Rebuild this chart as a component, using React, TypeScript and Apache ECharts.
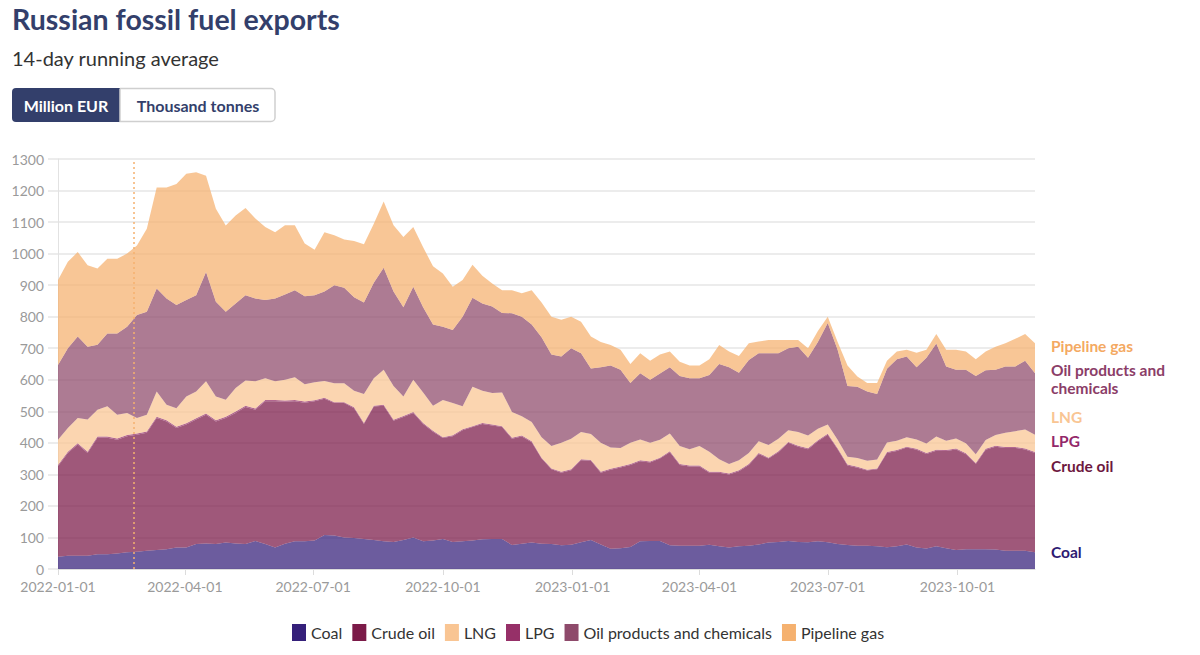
import React, { useEffect, useRef } from "react";
import * as echarts from "echarts";

const WEEKS = 100;
const DATES: string[] = Array.from({ length: WEEKS }, (_, i) =>
  new Date(Date.UTC(2022, 0, 1 + 7 * i)).toISOString().slice(0, 10)
);

const COAL = [
  39, 42, 42, 42, 47, 47, 49, 53, 55, 58,
  60, 63, 68, 68, 79, 81, 79, 84, 81, 79,
  89, 79, 68, 80, 88, 88, 90, 108, 106, 100,
  98, 95, 92, 88, 86, 92, 100, 88, 90, 95,
  86, 88, 90, 94, 95, 95, 76, 80, 84, 80,
  79, 75, 77, 85, 92, 78, 64, 66, 70, 88,
  89, 89, 75, 74, 74, 74, 77, 72, 68, 72,
  74, 78, 84, 86, 89, 86, 85, 88, 85, 79,
  76, 74, 74, 72, 69, 72, 78, 68, 65, 72,
  66, 60, 63, 63, 63, 62, 58, 58, 58, 53,
];
const CRUDE = [
  287, 326, 353, 326, 369, 369, 361, 368, 371, 374,
  419, 405, 379, 390, 395, 408, 389, 395, 414, 435,
  416, 453, 464, 450, 444, 439, 442, 432, 420, 426,
  412, 365, 423, 430, 384, 390, 395, 372, 345, 320,
  335, 352, 360, 366, 360, 355, 337, 340, 318, 270,
  237, 230, 236, 260, 251, 227, 251, 256, 260, 254,
  249, 261, 295, 256, 251, 251, 228, 233, 232, 238,
  256, 287, 266, 284, 311, 302, 295, 317, 341, 301,
  252, 247, 238, 244, 299, 302, 307, 310, 300, 303,
  308, 319, 301, 270, 315, 326, 326, 326, 321, 315,
];
const LPG = [
  4, 4, 4, 4, 4, 4, 4, 4, 4, 4,
  4, 4, 4, 4, 4, 4, 4, 4, 4, 4,
  4, 4, 4, 4, 4, 4, 3, 3, 3, 3,
  3, 3, 3, 3, 3, 3, 3, 3, 3, 3,
  3, 3, 3, 3, 3, 3, 3, 3, 3, 3,
  3, 3, 3, 3, 3, 3, 3, 3, 3, 3,
  3, 3, 3, 3, 3, 3, 3, 3, 3, 3,
  3, 3, 3, 3, 3, 3, 3, 3, 3, 3,
  3, 3, 3, 3, 3, 3, 3, 3, 3, 3,
  3, 3, 3, 3, 3, 3, 3, 3, 3, 3,
];
const LNG = [
  80, 75, 80, 102, 85, 96, 75, 70, 49, 53,
  80, 49, 59, 85, 85, 102, 75, 54, 75, 80,
  86, 69, 59, 66, 72, 55, 57, 53, 60, 60,
  52, 92, 87, 111, 107, 62, 102, 97, 80, 118,
  102, 73, 125, 102, 100, 107, 82, 61, 61, 65,
  71, 92, 97, 86, 82, 92, 67, 59, 67, 66,
  59, 57, 57, 57, 52, 62, 64, 40, 30, 32,
  35, 37, 40, 40, 37, 43, 40, 37, 29, 27,
  25, 28, 28, 28, 30, 30, 30, 30, 30, 42,
  30, 32, 32, 28, 28, 34, 45, 50, 60, 55,
];
const OIL = [
  237, 253, 258, 231, 206, 231, 258, 273, 326, 327,
  326, 337, 327, 306, 305, 347, 300, 279, 268, 270,
  263, 248, 263, 270, 276, 279, 276, 284, 311, 303,
  297, 290, 303, 323, 300, 283, 295, 270, 257, 232,
  232, 284, 282, 277, 274, 252, 313, 316, 309, 317,
  290, 274, 287, 250, 208, 240, 260, 248, 190, 210,
  200, 210, 210, 222, 225, 215, 243, 302, 307, 277,
  295, 279, 291, 271, 260, 271, 247, 275, 322, 285,
  224, 226, 220, 208, 234, 258, 256, 229, 272, 295,
  235, 218, 233, 248, 221, 207, 210, 205, 218, 195,
];
const PIPE = [
  269, 274, 268, 258, 242, 237, 237, 232, 221, 263,
  321, 352, 384, 400, 390, 305, 295, 273, 279, 277,
  253, 231, 210, 220, 206, 167, 144, 188, 158, 153,
  178, 185, 187, 210, 210, 223, 189, 190, 185, 169,
  137, 116, 105, 88, 73, 72, 73, 74, 109, 110,
  120, 116, 100, 100, 101, 80, 65, 63, 60, 63,
  60, 60, 50, 45, 40, 40, 50, 60, 50, 53,
  53, 37, 42, 42, 26, 21, 30, 35, 20, 25,
  65, 32, 27, 35, 25, 25, 21, 46, 25, 30,
  53, 63, 58, 53, 60, 73, 74, 88, 85, 95,
];

const LEGEND_ORDER = ["Coal", "Crude oil", "LNG", "LPG", "Oil products and chemicals", "Pipeline gas"];
const INVASION = "2022-02-24";

const SERIES = [
  { name: "Coal", values: COAL, color: "#35207a" },
  { name: "Crude oil", values: CRUDE, color: "#7b1a48" },
  { name: "LPG", values: LPG, color: "#963068" },
  { name: "LNG", values: LNG, color: "#f9c593" },
  { name: "Oil products and chemicals", values: OIL, color: "#8e4a6b" },
  { name: "Pipeline gas", values: PIPE, color: "#f5b16f" },
];

const FONT = "Lato, 'Noto Sans', sans-serif";
const pad = (n: number) => (n < 10 ? "0" + n : "" + n);

export default function App() {
  const ref = useRef<HTMLDivElement>(null);
  useEffect(() => {
    document.body.style.margin = "0";
    if (!ref.current) return;
    const chart = echarts.init(ref.current, undefined, { renderer: "svg" });
    const DAY = 86400000;
    const colorOf = (n: string) => SERIES.find((s) => s.name === n)!.color;
    const rightLabels = [
      { t: "Pipeline gas", y: 346, c: "#f4a962" },
      { t: "Oil products and", y: 370, c: "#8b3d68" },
      { t: "chemicals", y: 388, c: "#8b3d68" },
      { t: "LNG", y: 417, c: "#f9c593" },
      { t: "LPG", y: 441, c: "#93286a" },
      { t: "Crude oil", y: 466, c: "#6d1840" },
      { t: "Coal", y: 552, c: "#2e1a72" },
    ];
    chart.setOption({
      animation: false,
      textStyle: { fontFamily: FONT },
      grid: { left: 58, right: 165, top: 159, bottom: 86, containLabel: false },
      xAxis: {
        type: "time",
        min: DATES[0],
        max: DATES[DATES.length - 1],
        minInterval: 91 * DAY,
        maxInterval: 92 * DAY,
        axisLine: { show: true, lineStyle: { color: "#dcdcdc", width: 1 } },
        axisTick: { show: true, length: 6, lineStyle: { color: "#dcdcdc" } },
        splitLine: { show: false },
        axisLabel: {
          color: "#9a9a9a",
          fontSize: 14,
          fontFamily: FONT,
          margin: 10,
          formatter: (v: number) => {
            const d = new Date(v);
            return `${d.getFullYear()}-${pad(d.getMonth() + 1)}-${pad(d.getDate())}`;
          },
        },
      },
      yAxis: {
        type: "value",
        min: 0,
        max: 1300,
        interval: 100,
        axisLine: { show: true, lineStyle: { color: "#e2e2e2" } },
        axisTick: { show: true, length: 10, lineStyle: { color: "#ececec", width: 2 } },
        splitLine: { show: true, lineStyle: { color: "#ececec", width: 2 } },
        axisLabel: {
          color: "#9a9a9a",
          fontSize: 14,
          fontFamily: FONT,
          margin: 14,
          formatter: (v: number) => String(v),
        },
      },
      legend: {
        top: 619,
        left: 287,
        icon: "rect",
        itemWidth: 14,
        itemHeight: 17,
        itemGap: 10,
        textStyle: { fontSize: 16, color: "#333", fontFamily: FONT },
        data: LEGEND_ORDER.map((n) => ({ name: n, itemStyle: { color: colorOf(n), opacity: 1 } })),
      },
      series: SERIES.map((s, idx) => ({
        name: s.name,
        type: "line",
        stack: "total",
        showSymbol: false,
        symbol: "none",
        color: s.color,
        lineStyle: { width: 0, opacity: 0 },
        areaStyle: { color: s.color, opacity: 0.73 },
        data: DATES.map((d, i) => [d, s.values[i]]),
        ...(idx === SERIES.length - 1
          ? {
              markLine: {
                silent: true,
                symbol: ["none", "none"],
                label: { show: false },
                lineStyle: { color: "#f5b16f", type: [2, 3], width: 1.5 },
                data: [{ xAxis: INVASION }],
              },
            }
          : {}),
      })),
      graphic: [
        {
          type: "text",
          x: 12,
          y: 19,
          style: {
            text: "Russian fossil fuel exports",
            fontSize: 28.5,
            fontWeight: "bold",
            fontFamily: FONT,
            fill: "#333f6b",
            verticalAlign: "middle",
            textVerticalAlign: "middle",
          },
        },
        {
          type: "text",
          x: 12,
          y: 58,
          style: {
            text: "14-day running average",
            fontSize: 20,
            fontFamily: FONT,
            fill: "#333",
            verticalAlign: "middle",
            textVerticalAlign: "middle",
          },
        },
        {
          type: "rect",
          shape: { x: 12, y: 88, width: 108, height: 34, r: [4, 0, 0, 4] },
          style: { fill: "#333f6b" },
        },
        {
          type: "rect",
          shape: { x: 120, y: 88.5, width: 155, height: 33, r: [0, 4, 4, 0] },
          style: { fill: "#fff", stroke: "#cfcfcf", lineWidth: 1.5 },
        },
        {
          type: "text",
          x: 66,
          y: 105,
          style: {
            text: "Million EUR",
            fontSize: 16,
            fontWeight: "bold",
            fontFamily: FONT,
            fill: "#fff",
            align: "center",
            textAlign: "center",
            verticalAlign: "middle",
            textVerticalAlign: "middle",
          },
        },
        {
          type: "text",
          x: 198,
          y: 105,
          style: {
            text: "Thousand tonnes",
            fontSize: 16,
            fontWeight: "bold",
            fontFamily: FONT,
            fill: "#333f6b",
            align: "center",
            textAlign: "center",
            verticalAlign: "middle",
            textVerticalAlign: "middle",
          },
        },
        ...rightLabels.map((l) => ({
          type: "text",
          x: 1051,
          y: l.y,
          style: {
            text: l.t,
            fontSize: 15.5,
            fontWeight: "bold",
            fontFamily: FONT,
            fill: l.c,
            verticalAlign: "middle",
            textVerticalAlign: "middle",
          },
        })),
      ],
    });
    return () => chart.dispose();
  }, []);
  return <div ref={ref} style={{ width: 1200, height: 655 }} />;
}
